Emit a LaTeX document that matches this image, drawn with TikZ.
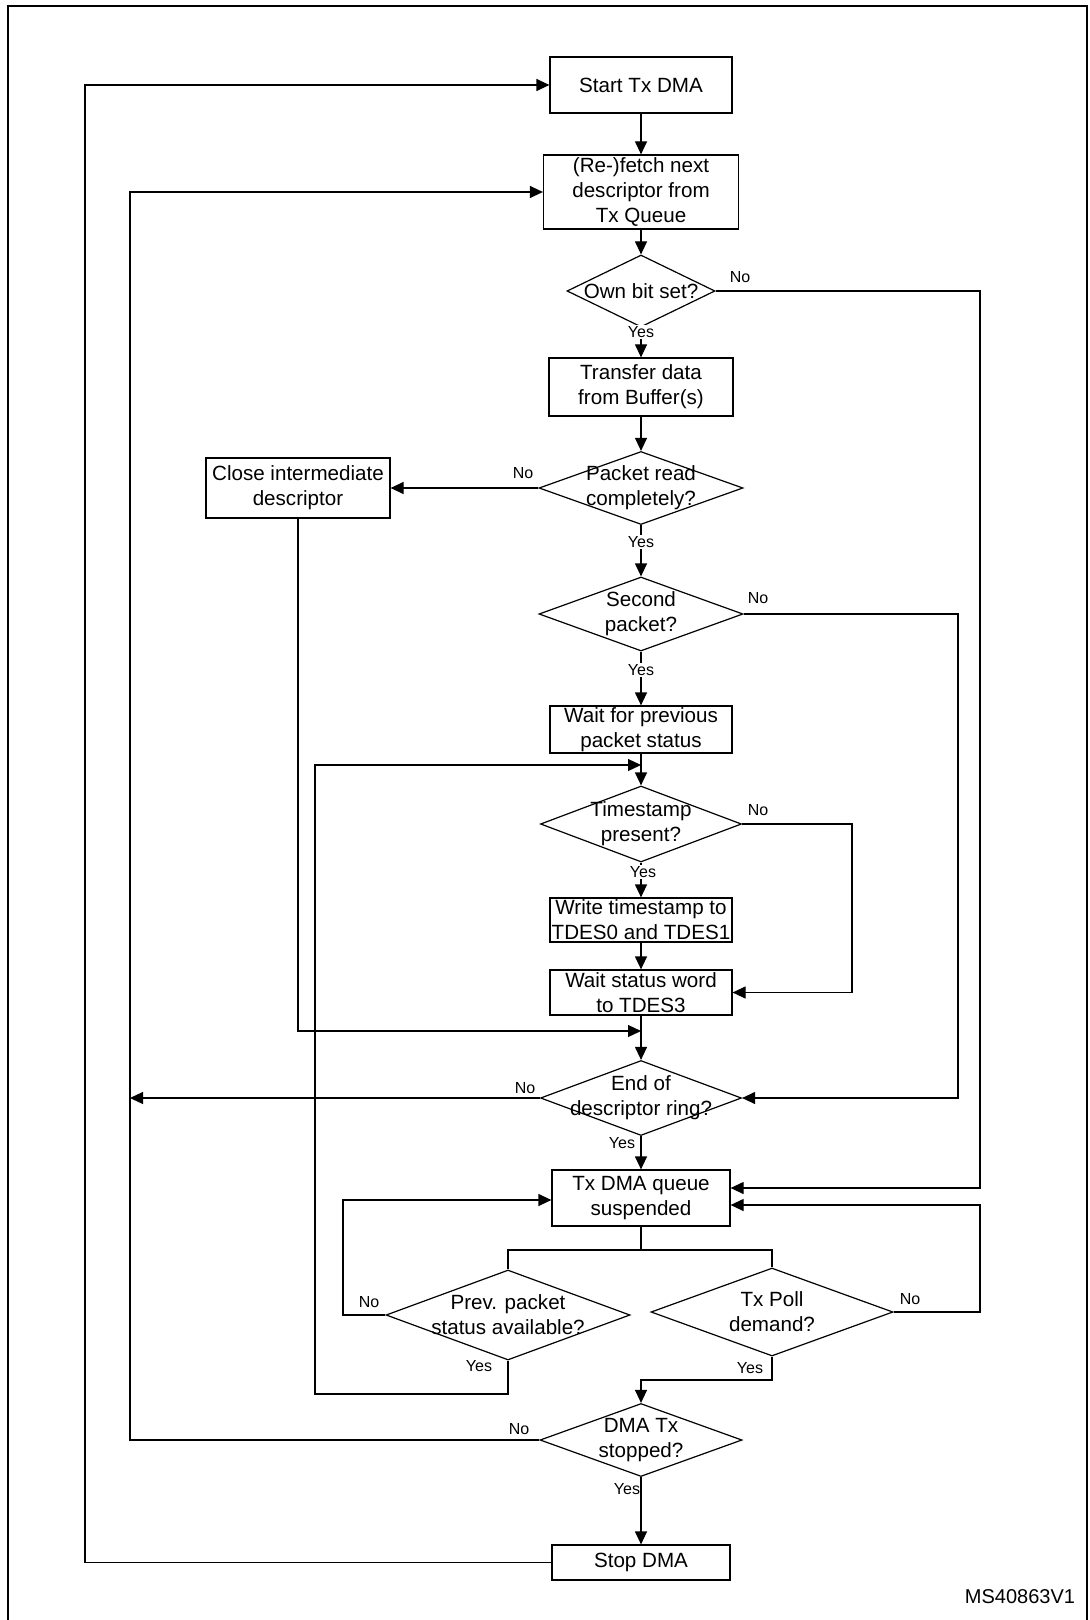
\documentclass[tikz,border=0pt]{standalone}
\usepackage{fontspec}
\setmainfont{Liberation Sans}
\usetikzlibrary{shapes.geometric,arrows.meta}
\begin{document}
\begin{tikzpicture}[x=0.5pt,y=-0.5pt,line width=0.6pt,
  box/.style 2 args={draw,rectangle,minimum width=#1,minimum height=#2,inner sep=0pt,align=center,font=\fontsize{10.3}{12.5}\selectfont},
  dec/.style 2 args={draw,diamond,minimum width=#1,minimum height=#2,inner sep=0pt},
  txt/.style={align=center,font=\fontsize{10.3}{12.5}\selectfont,inner sep=0pt},
  yn/.style={font=\fontsize{8}{9}\selectfont,inner sep=0.6pt},
  arr/.style={-{Triangle[length=6.5pt,width=6pt]}}]
\useasboundingbox (0,0) rectangle (1089,1620);
\draw[line width=1pt] (8,1630)--(8,6)--(1087,6)--(1087,1630);

\node[box={91pt}{28pt}] (start) at (641,85) {Start Tx DMA};
\node[box={97.5pt}{37pt}] (fetch) at (641,192) {(Re-)fetch next\\descriptor from\\Tx Queue};
\node[dec={74pt}{36pt},label={[txt]center:Own bit set?}] (own) at (641,291) {};
\node[box={92pt}{29pt}] (xfer) at (641,387) {Transfer data\\from Buffer(s)};
\node[dec={102pt}{36.5pt},label={[txt]center:Packet read\\completely?}] (pkt) at (641,488) {};
\node[box={92pt}{30pt}] (close) at (298,488) {Close intermediate\\descriptor};
\node[dec={102pt}{37pt},label={[txt]center:Second\\packet?}] (second) at (641,614) {};
\node[box={91pt}{23.5pt}] (waitprev) at (641,729.5) {Wait for previous\\packet status};
\node[dec={100.5pt}{38pt},label={[txt]center:Timestamp\\present?}] (ts) at (641,824) {};
\node[box={91pt}{22pt}] (wrts) at (641,920) {Write timestamp to\\TDES0 and TDES1};
\node[box={91pt}{22.5pt}] (waitstat) at (641,992.5) {Wait status word\\to TDES3};
\node[dec={100.5pt}{37.5pt},label={[txt]center:End of\\descriptor ring?}] (ring) at (641,1098) {};
\node[box={89pt}{28pt}] (susp) at (641,1198) {Tx DMA queue\\suspended};
\node[dec={122pt}{45pt},label={[txt]center:Prev. packet\\status available?}] (prev) at (508,1315) {};
\node[dec={121pt}{44pt},label={[txt]center:Tx Poll\\demand?}] (poll) at (772,1312) {};
\node[dec={101pt}{36.5pt},label={[txt]center:DMA Tx\\stopped?}] (stopped) at (641,1440) {};
\node[box={89pt}{17.5pt}] (stop) at (641,1562.5) {Stop DMA};

\coordinate (j1) at (641,765);
\coordinate (j2) at (641,1031);
\coordinate (br) at (641,1250);
\coordinate (pj) at (641,1380);
\coordinate (pb) at (315,1394);
\coordinate (llx) at (85,0);
\coordinate (lx) at (130,0);
\coordinate (qx) at (343,0);
\coordinate (tx) at (852,0);
\coordinate (sx) at (958,0);
\coordinate (rx) at (980,0);

\draw[arr] (start) -- (fetch);
\draw[arr] (fetch) -- (own);
\draw[arr] (own) -- (xfer);
\draw[arr] (xfer) -- (pkt);
\draw[arr] (pkt) -- (second);
\draw[arr] (second) -- (waitprev);
\draw[arr] (waitprev) -- (ts);
\draw[arr] (ts) -- (wrts);
\draw[arr] (wrts) -- (waitstat);
\draw[arr] (waitstat) -- (ring);
\draw[arr] (ring) -- (susp);
\draw[arr] (stopped) -- (stop);
\draw (susp) -- (br);
\draw (prev.north) |- (br) -| (poll.north);
\draw[arr] (poll.south) |- (pj) -- (stopped);

\draw[arr] (pkt.west) -- (close.east);
\draw[arr] (close.south) |- (j2);
\draw[arr] (prev.south) |- (pb) |- (j1);
\draw[arr] (own.east) -- (own.east -| rx) |- ([yshift=5pt]susp.east);
\draw[arr] (poll.east) -- (poll.east -| rx) |- ([yshift=-3.5pt]susp.east);
\draw[arr] (prev.west) -- (prev.west -| qx) |- ([yshift=-1pt]susp.west);
\draw[arr] (second.east) -- (second.east -| sx) |- (ring.east);
\draw[arr] (ts.east) -- (ts.east -| tx) |- (waitstat.east);
\draw[arr] (ring.west) -- (ring.west -| lx);
\draw[arr] (stopped.west) -- (stopped.west -| lx) |- (fetch.west);
\draw[arr] (stop.west) -- (stop.west -| llx) |- (start.west);

\node[yn] (n1) at (740,277) {No};
\node[yn,fill=white] (y1) at (641,332) {Yes};
\node[yn] (n2) at (523,473) {No};
\node[yn,fill=white] (y2) at (641,542) {Yes};
\node[yn] (n3) at (758,598) {No};
\node[yn,fill=white] (y3) at (641,670) {Yes};
\node[yn] (n4) at (758,810) {No};
\node[yn,fill=white] (y4) at (643,872) {Yes};
\node[yn] (n5) at (525,1088) {No};
\node[yn] (y5) at (622,1143) {Yes};
\node[yn] (n6) at (369,1302) {No};
\node[yn] (y6) at (479,1366) {Yes};
\node[yn] (n7) at (910,1299) {No};
\node[yn] (y7) at (750,1368) {Yes};
\node[yn] (n8) at (519,1429) {No};
\node[yn] (y8) at (627,1489) {Yes};
\node[font=\fontsize{10}{11}\selectfont] (ms) at (1020,1597) {MS40863V1};
\end{tikzpicture}
\end{document}
